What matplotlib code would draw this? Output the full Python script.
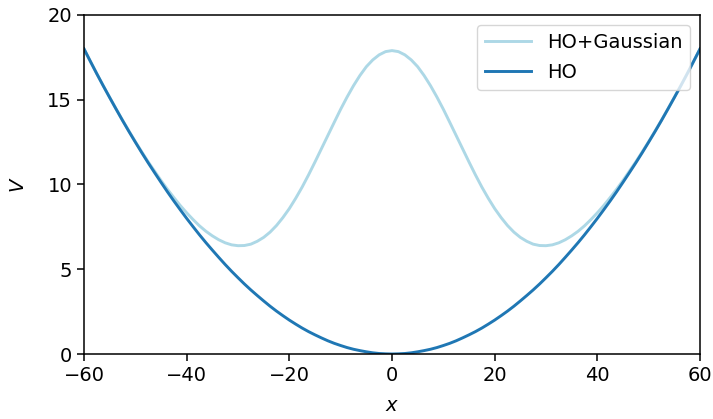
import numpy as np
import matplotlib
matplotlib.use('Agg')
import matplotlib.pyplot as plt

# values read off the reference, sampled every 1.25 in x on the half 0..60
# (both curves are symmetric about x = 0)
x_half = np.arange(0, 60.01, 1.25)

ho_half = [0.0, 0.01, 0.03, 0.07, 0.13, 0.2, 0.28, 0.38, 0.5, 0.63, 0.78,
           0.95, 1.13, 1.32, 1.53, 1.76, 2.0, 2.26, 2.53, 2.82, 3.13, 3.45,
           3.78, 4.13, 4.5, 4.88, 5.28, 5.7, 6.13, 6.57, 7.03, 7.51, 8.0,
           8.51, 9.03, 9.57, 10.13, 10.7, 11.28, 11.88, 12.5, 13.13, 13.78,
           14.45, 15.13, 15.82, 16.53, 17.26, 18.0]
hog_half = [17.9, 17.84, 17.65, 17.35, 16.95, 16.43, 15.83, 15.16, 14.44,
            13.67, 12.89, 12.11, 11.33, 10.57, 9.85, 9.19, 8.58, 8.05, 7.58,
            7.19, 6.88, 6.65, 6.48, 6.4, 6.39, 6.44, 6.56, 6.74, 6.97, 7.24,
            7.56, 7.93, 8.33, 8.76, 9.23, 9.72, 10.24, 10.79, 11.34, 11.93,
            12.53, 13.16, 13.8, 14.46, 15.14, 15.83, 16.53, 17.26, 18.0]

x = np.concatenate([-x_half[::-1], x_half[1:]])
ho = ho_half[::-1] + ho_half[1:]
ho_gauss = hog_half[::-1] + hog_half[1:]

fs = 14
plt.rcParams['font.size'] = fs

fig = plt.figure(figsize=(7.13, 4.19), dpi=100)
ax = fig.add_axes([84/713, 1 - 354/419, 616/713, 339/419])

ax.plot(x, ho_gauss, color='lightblue', lw=2.1, label='HO+Gaussian')
ax.plot(x, ho, color='#1f77b4', lw=2.1, label='HO')

ax.set_xlim(-60, 60)
ax.set_ylim(0, 20)
ax.set_xticks([-60, -40, -20, 0, 20, 40, 60])
ax.set_yticks([0, 5, 10, 15, 20])
ax.tick_params(length=5, width=1.1, labelsize=fs)
for s in ax.spines.values():
    s.set_linewidth(1.1)

ax.set_xlabel('$x$', fontsize=fs, labelpad=8)
ax.set_ylabel('$V$', fontsize=fs, labelpad=14)
ax.legend(loc='upper right', fontsize=fs, handlelength=2.4, labelspacing=0.6)

fig.savefig('out.png', dpi=100)
